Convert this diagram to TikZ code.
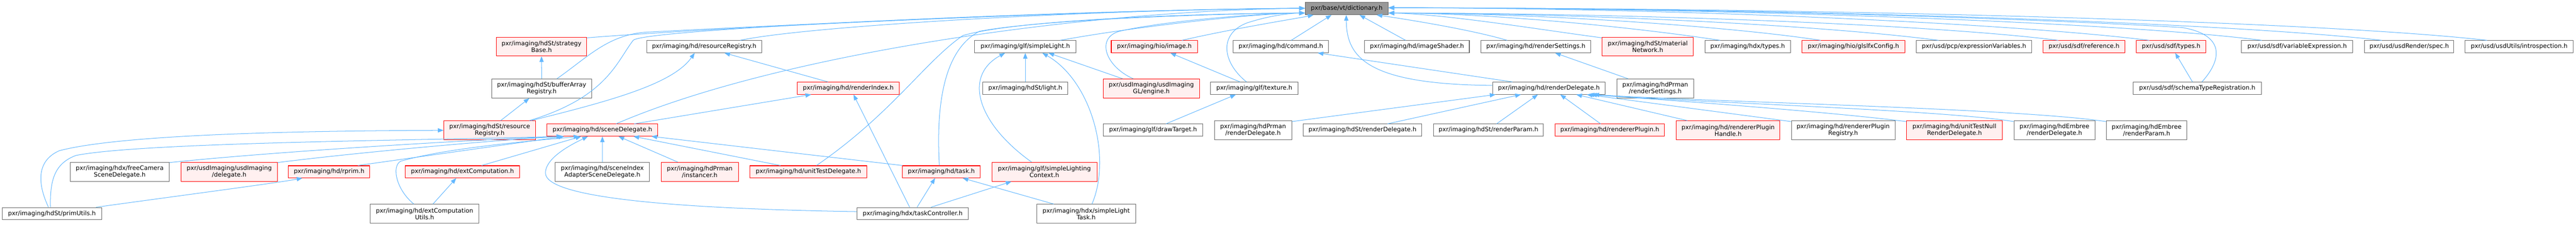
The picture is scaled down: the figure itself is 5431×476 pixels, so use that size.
\documentclass[tikz,border=0pt]{standalone}
\usepackage{fontspec}
\setmainfont{DejaVu Sans}
\usetikzlibrary{arrows.meta}
\definecolor{edgec}{HTML}{63B8FF}
\definecolor{gborder}{HTML}{666666}
\definecolor{rfill}{HTML}{FFF0F0}
\definecolor{rootfill}{HTML}{999999}
\begin{document}
\begin{tikzpicture}[x=1pt,y=-1pt,
  nbox/.style={rectangle, inner sep=0pt, align=center, line width=1.1pt, font={\fontsize{12.8}{14}\selectfont}},
  gbox/.style={nbox, draw=gborder, fill=white},
  rbox/.style={nbox, draw=red, fill=rfill},
  rootbox/.style={nbox, draw=gborder, fill=rootfill},
  one/.style={minimum height=25.5pt},
  two/.style={minimum height=40pt},
  edg/.style={draw=edgec, line width=1.1pt, -{Triangle[length=12pt,width=9pt]}}]
\fill[white] (0,0) rectangle (5431,476);
\useasboundingbox (0,0) rectangle (5431,476);
% row 1
\node[rootbox, minimum width=175pt, minimum height=26pt] (dict) at (2839.3,18) {pxr/base/vt/dictionary.h};
% row 2
\node[rbox, two, minimum width=190.6pt] (strat) at (1141.7,98.3) {pxr/imaging/hdSt/strategy\\Base.h};
\node[gbox, one, minimum width=242.4pt] (hdrr) at (1484.6,98.4) {pxr/imaging/hd/resourceRegistry.h};
\node[gbox, one, minimum width=213.4pt] (slight) at (2161.6,98.4) {pxr/imaging/glf/simpleLight.h};
\node[rbox, one, minimum width=181.6pt] (hioimg) at (2433.7,98.4) {pxr/imaging/hio/image.h};
\node[gbox, one, minimum width=201.3pt] (cmd) at (2700.3,98.4) {pxr/imaging/hd/command.h};
\node[gbox, one, minimum width=221pt] (imgsh) at (2987.3,98.4) {pxr/imaging/hd/imageShader.h};
\node[gbox, one, minimum width=231.3pt] (rset) at (3238,98.4) {pxr/imaging/hd/renderSettings.h};
\node[rbox, two, minimum width=192.3pt] (matnet) at (3473.9,98.3) {pxr/imaging/hdSt/material\\Network.h};
\node[gbox, one, minimum width=180pt] (hdxtypes) at (3684.6,98.4) {pxr/imaging/hdx/types.h};
\node[rbox, one, minimum width=217.3pt] (glslfx) at (3907.4,98.4) {pxr/imaging/hio/glslfxConfig.h};
\node[gbox, one, minimum width=244.2pt] (exprvar) at (4161.8,98.4) {pxr/usd/pcp/expressionVariables.h};
\node[rbox, one, minimum width=172.3pt] (sdfref) at (4393.8,98.4) {pxr/usd/sdf/reference.h};
\node[rbox, one, minimum width=147pt] (sdftypes) at (4577.5,98.4) {pxr/usd/sdf/types.h};
\node[gbox, one, minimum width=234.3pt] (varexpr) at (4843,98.4) {pxr/usd/sdf/variableExpression.h};
\node[gbox, one, minimum width=187.6pt] (spec) at (5079.3,98.4) {pxr/usd/usdRender/spec.h};
\node[gbox, one, minimum width=227.6pt] (introsp) at (5311.1,98.4) {pxr/usd/usdUtils/introspection.h};
% row 3
\node[gbox, two, minimum width=210.7pt] (bar) at (1142,186.7) {pxr/imaging/hdSt/bufferArray\\Registry.h};
\node[rbox, one, minimum width=215.2pt] (rindex) at (1788.4,186.2) {pxr/imaging/hd/renderIndex.h};
\node[gbox, one, minimum width=178.6pt] (hdstlight) at (2161.6,186.2) {pxr/imaging/hdSt/light.h};
\node[rbox, two, minimum width=202.7pt] (engine) at (2427.3,186.7) {pxr/usdImaging/usdImaging\\GL/engine.h};
\node[gbox, one, minimum width=184.4pt] (texture) at (2644.4,186.2) {pxr/imaging/glf/texture.h};
\node[gbox, one, minimum width=237pt] (hdrd) at (3265.4,186.2) {pxr/imaging/hd/renderDelegate.h};
\node[gbox, two, minimum width=162.5pt] (prmanrs) at (3489.8,186.7) {pxr/imaging/hdPrman\\/renderSettings.h};
\node[gbox, one, minimum width=270.2pt] (schema) at (4632.4,186.2) {pxr/usd/sdf/schemaTypeRegistration.h};
% row 4
\node[rbox, two, minimum width=193.3pt] (hdstrr) at (1032.4,275) {pxr/imaging/hdSt/resource\\Registry.h};
\node[rbox, one, minimum width=234pt] (scened) at (1270,274.5) {pxr/imaging/hd/sceneDelegate.h};
\node[gbox, one, minimum width=209.4pt] (drawt) at (2431,274.5) {pxr/imaging/glf/drawTarget.h};
\node[gbox, two, minimum width=162.9pt] (prmanrd) at (2641.8,275) {pxr/imaging/hdPrman\\/renderDelegate.h};
\node[gbox, one, minimum width=250.5pt] (hdstrd) at (2872.6,274.5) {pxr/imaging/hdSt/renderDelegate.h};
\node[gbox, one, minimum width=232.1pt] (hdstrp) at (3138,274.5) {pxr/imaging/hdSt/renderParam.h};
\node[rbox, one, minimum width=230.3pt] (rplug) at (3393.8,274.5) {pxr/imaging/hd/rendererPlugin.h};
\node[rbox, two, minimum width=218.7pt] (rplugh) at (3643.4,275) {pxr/imaging/hd/rendererPlugin\\Handle.h};
\node[gbox, two, minimum width=218.2pt] (rplugr) at (3885.9,275) {pxr/imaging/hd/rendererPlugin\\Registry.h};
\node[rbox, two, minimum width=201.8pt] (utnull) at (4120.5,275) {pxr/imaging/hd/unitTestNull\\RenderDelegate.h};
\node[gbox, two, minimum width=170.5pt] (embrd) at (4331.3,275) {pxr/imaging/hdEmbree\\/renderDelegate.h};
\node[gbox, two, minimum width=170.1pt] (embrp) at (4525.7,275) {pxr/imaging/hdEmbree\\/renderParam.h};
% row 5
\node[gbox, two, minimum width=209.2pt] (freecam) at (252.4,362.5) {pxr/imaging/hdx/freeCamera\\SceneDelegate.h};
\node[rbox, two, minimum width=203.1pt] (usddel) at (483.3,362.5) {pxr/usdImaging/usdImaging\\/delegate.h};
\node[rbox, one, minimum width=171.5pt] (rprim) at (693.8,362.5) {pxr/imaging/hd/rprim.h};
\node[rbox, one, minimum width=241pt] (extc) at (975,362.5) {pxr/imaging/hd/extComputation.h};
\node[gbox, two, minimum width=198.7pt] (sia) at (1269.9,362.5) {pxr/imaging/hd/sceneIndex\\AdapterSceneDelegate.h};
\node[rbox, two, minimum width=163pt] (inst) at (1475.2,362.5) {pxr/imaging/hdPrman\\/instancer.h};
\node[rbox, one, minimum width=247.2pt] (utd) at (1704.4,362.5) {pxr/imaging/hd/unitTestDelegate.h};
\node[rbox, one, minimum width=164.8pt] (task) at (1984.6,362.5) {pxr/imaging/hd/task.h};
\node[rbox, two, minimum width=221.5pt] (slc) at (2201.8,362.5) {pxr/imaging/glf/simpleLighting\\Context.h};
% row 6
\node[gbox, one, minimum width=209.5pt] (primu) at (109.3,450.5) {pxr/imaging/hdSt/primUtils.h};
\node[gbox, two, minimum width=229.4pt] (extcu) at (895.1,451) {pxr/imaging/hd/extComputation\\Utils.h};
\node[gbox, one, minimum width=234.8pt] (taskc) at (1924.1,450.5) {pxr/imaging/hdx/taskController.h};
\node[gbox, two, minimum width=208.5pt] (slt) at (2290,451) {pxr/imaging/hdx/simpleLight\\Task.h};
% ---- edges into dictionary (left)
\draw[edg] ([yshift=-2]strat.north east) .. controls (1550,55) and (2350,20) .. ([yshift=-13]dict.north west);
\draw[edg] ([xshift=138]bar.north west) .. controls (1240,120) and (1280,75) .. (1360,68) .. controls (1800,45) and (2400,19) .. ([yshift=-13]dict.north west);
\draw[edg] ([xshift=180.8]hdstrr.north west) .. controls (1280,205) and (1300,130) .. (1335,85) .. controls (1360,60) and (2300,20) .. ([yshift=-13]dict.north west);
\draw[edg] ([xshift=197.6]hdrr.north west) .. controls (1700,55) and (2300,20) .. ([yshift=-13]dict.north west);
\draw[edg] ([xshift=146.5]scened.north west) .. controls (1650,110) and (2300,22) .. ([yshift=-13]dict.north west);
\draw[edg] ([xshift=141.1]utd.north west) .. controls (1880,240) and (1950,130) .. (2030,75) .. controls (2150,40) and (2550,28) .. ([yshift=-23]dict.north west);
\draw[edg] ([xshift=78.8]task.north west) .. controls (1975,250) and (1980,110) .. (2065,66) .. controls (2200,40) and (2600,28) .. ([yshift=-23]dict.north west);
\draw[edg] ([xshift=180.8]slight.north west) .. controls (2400,55) and (2650,28) .. ([yshift=-23]dict.north west);
\draw[edg] ([xshift=63.8]engine.north west) .. controls (2330,140) and (2310,80) .. (2360,66) .. controls (2450,45) and (2650,28) .. ([yshift=-23]dict.north west);
\draw[edg] ([xshift=76.4]texture.north west) .. controls (2575,130) and (2570,70) .. (2630,48) .. controls (2680,32) and (2720,28) .. ([yshift=-23]dict.north west);
% ---- edges into dictionary (bottom)
\draw[edg] ([xshift=149.6]hioimg.north west) .. controls (2600,60) and (2740,38) .. ([xshift=18]dict.south west);
\draw[edg] ([xshift=123.1]cmd.north west) -- ([xshift=56]dict.south west);
\draw[edg] ([yshift=6]hdrd.west) .. controls (2880,178) and (2839,120) .. ([xshift=87]dict.south west);
\draw[edg] ([xshift=87.2]imgsh.north west) -- ([xshift=115]dict.south west);
\draw[edg] ([xshift=55.7]rset.north west) .. controls (3100,62) and (2960,40) .. ([xshift=151]dict.south west);
% ---- edges into dictionary (right)
\draw[edg] ([yshift=-2]matnet.north west) .. controls (3250,63) and (3050,30) .. ([yshift=-23]dict.north east);
\draw[edg] ([xshift=32.4]hdxtypes.north west) .. controls (3450,58) and (3150,28) .. ([yshift=-23]dict.north east);
\draw[edg] ([xshift=40.3]glslfx.north west) .. controls (3650,56) and (3250,28) .. ([yshift=-23]dict.north east);
\draw[edg] ([xshift=47.8]exprvar.north west) .. controls (3850,54) and (3350,28) .. ([yshift=-23]dict.north east);
\draw[edg] ([xshift=32.1]sdfref.north west) .. controls (4080,52) and (3450,28) .. ([yshift=-23]dict.north east);
\draw[edg] ([xshift=27.7]sdftypes.north west) .. controls (4250,50) and (3550,17) .. ([yshift=-12]dict.north east);
\draw[edg] ([xshift=145.4]schema.north west) .. controls (4690,120) and (4685,72) .. (4600,58) .. controls (4300,40) and (3650,17) .. ([yshift=-12]dict.north east);
\draw[edg] ([xshift=43.1]varexpr.north west) .. controls (4500,50) and (3700,17) .. ([yshift=-12]dict.north east);
\draw[edg] ([xshift=36.5]spec.north west) .. controls (4700,48) and (3800,17) .. ([yshift=-12]dict.north east);
\draw[edg] ([xshift=46.7]introsp.north west) .. controls (4900,46) and (3900,17) .. ([yshift=-12]dict.north east);
% ---- other edges
\draw[edg] (bar.north) -- (strat.south);
\draw[edg] ([xshift=120.3]hdstrr.north west) -- ([xshift=79.9]bar.south west);
\draw[edg] ([xshift=184.3]hdstrr.north west) .. controls (1300,210) and (1420,175) .. ([xshift=101.8]hdrr.south west);
\draw[edg] ([xshift=65.6]rindex.north west) -- ([xshift=164.3]hdrr.south west);
\draw[edg] ([xshift=185]scened.north west) -- ([xshift=29.9]rindex.south west);
\draw[edg] ([xshift=111.6]taskc.north west) -- ([xshift=119.2]rindex.south west);
\draw[edg] ([xshift=127.3]taskc.north west) -- ([xshift=69.8]task.south west);
\draw[edg] ([xshift=156.7]taskc.north west) -- ([xshift=42]slc.south west);
\draw[edg] ([xshift=36.3]slt.north west) -- ([xshift=127.8]task.south west);
\draw[edg] ([xshift=117]slt.north west) .. controls (2345,330) and (2300,170) .. ([xshift=143.1]slight.south west);
\draw[edg] (hdstlight.north) -- (slight.south);
\draw[edg] ([xshift=84.4]slc.north west) .. controls (2060,260) and (2030,160) .. ([xshift=64.7]slight.south west);
\draw[edg] ([xshift=41.5]engine.north west) -- ([xshift=156.1]slight.south west);
\draw[edg] ([xshift=62.8]texture.north west) -- ([xshift=125]hioimg.south west);
\draw[edg] ([xshift=132.6]drawt.north west) -- ([xshift=54]texture.south west);
\draw[edg] ([xshift=42.4]hdrd.north west) -- ([xshift=179]cmd.south west);
\draw[edg] ([yshift=-2]prmanrd.north east) -- ([xshift=6.7]hdrd.south west);
\draw[edg] ([xshift=178.6]hdstrd.north west) -- ([xshift=60.1]hdrd.south west);
\draw[edg] ([xshift=133.9]hdstrp.north west) -- ([xshift=96]hdrd.south west);
\draw[edg] ([xshift=96.4]rplug.north west) -- ([xshift=143.1]hdrd.south west);
\draw[edg] ([xshift=24]rplugh.north west) -- ([xshift=176.8]hdrd.south west);
\draw[edg] ([yshift=-2]rplugr.north west) -- ([xshift=199.1]hdrd.south west);
\draw[edg] ([yshift=-2]utnull.north west) .. controls (3850,235) and (3500,210) .. ([xshift=203]hdrd.south west);
\draw[edg] ([yshift=-2]embrd.north west) .. controls (4100,232) and (3550,215) .. ([xshift=208]hdrd.south west);
\draw[edg] ([yshift=-2]embrp.north west) .. controls (4250,228) and (3600,215) .. ([xshift=213]hdrd.south west);
\draw[edg] ([xshift=24.5]prmanrs.north west) -- ([xshift=156.7]rset.south west);
\draw[edg] ([xshift=125.7]schema.north west) -- ([xshift=82.5]sdftypes.south west);
\draw[edg] ([xshift=133]extcu.north west) -- ([xshift=108]extc.south west);
\draw[edg] ([xshift=98.2]primu.north west) .. controls (80,390) and (75,340) .. (125,318) .. controls (250,285) and (600,276) .. (hdstrr.west);
\draw[edg] ([xshift=102.5]primu.north west) .. controls (105,380) and (115,345) .. (160,328) .. controls (300,300) and (900,296) .. ([xshift=32.7]scened.south west);
\draw[edg] ([xshift=198.5]primu.north west) .. controls (400,410) and (590,385) .. ([xshift=30]rprim.south west);
\draw[edg] ([yshift=-1]freecam.north east) .. controls (600,318) and (1000,295) .. ([xshift=33]scened.south west);
\draw[edg] ([yshift=-1]usddel.north east) .. controls (750,322) and (1050,295) .. ([xshift=35]scened.south west);
\draw[edg] ([xshift=147]rprim.north west) -- ([xshift=37]scened.south west);
\draw[edg] ([xshift=92.6]extcu.north west) .. controls (835,400) and (825,350) .. (845,340) .. controls (950,310) and (1150,295) .. ([xshift=69]scened.south west);
\draw[edg] ([xshift=161.5]extc.north west) -- ([xshift=73]scened.south west);
\draw[edg] (sia.north) -- (scened.south);
\draw[edg] ([yshift=4]taskc.west) .. controls (1400,440) and (1150,415) .. (1150,365) .. controls (1150,330) and (1215,300) .. ([xshift=87]scened.south west);
\draw[edg] ([xshift=35.75]inst.north west) -- ([xshift=151.5]scened.south west);
\draw[edg] ([xshift=65.2]utd.north west) -- ([xshift=183]scened.south west);
\draw[edg] ([xshift=1]task.north west) -- ([xshift=221]scened.south west);
\end{tikzpicture}
\end{document}
